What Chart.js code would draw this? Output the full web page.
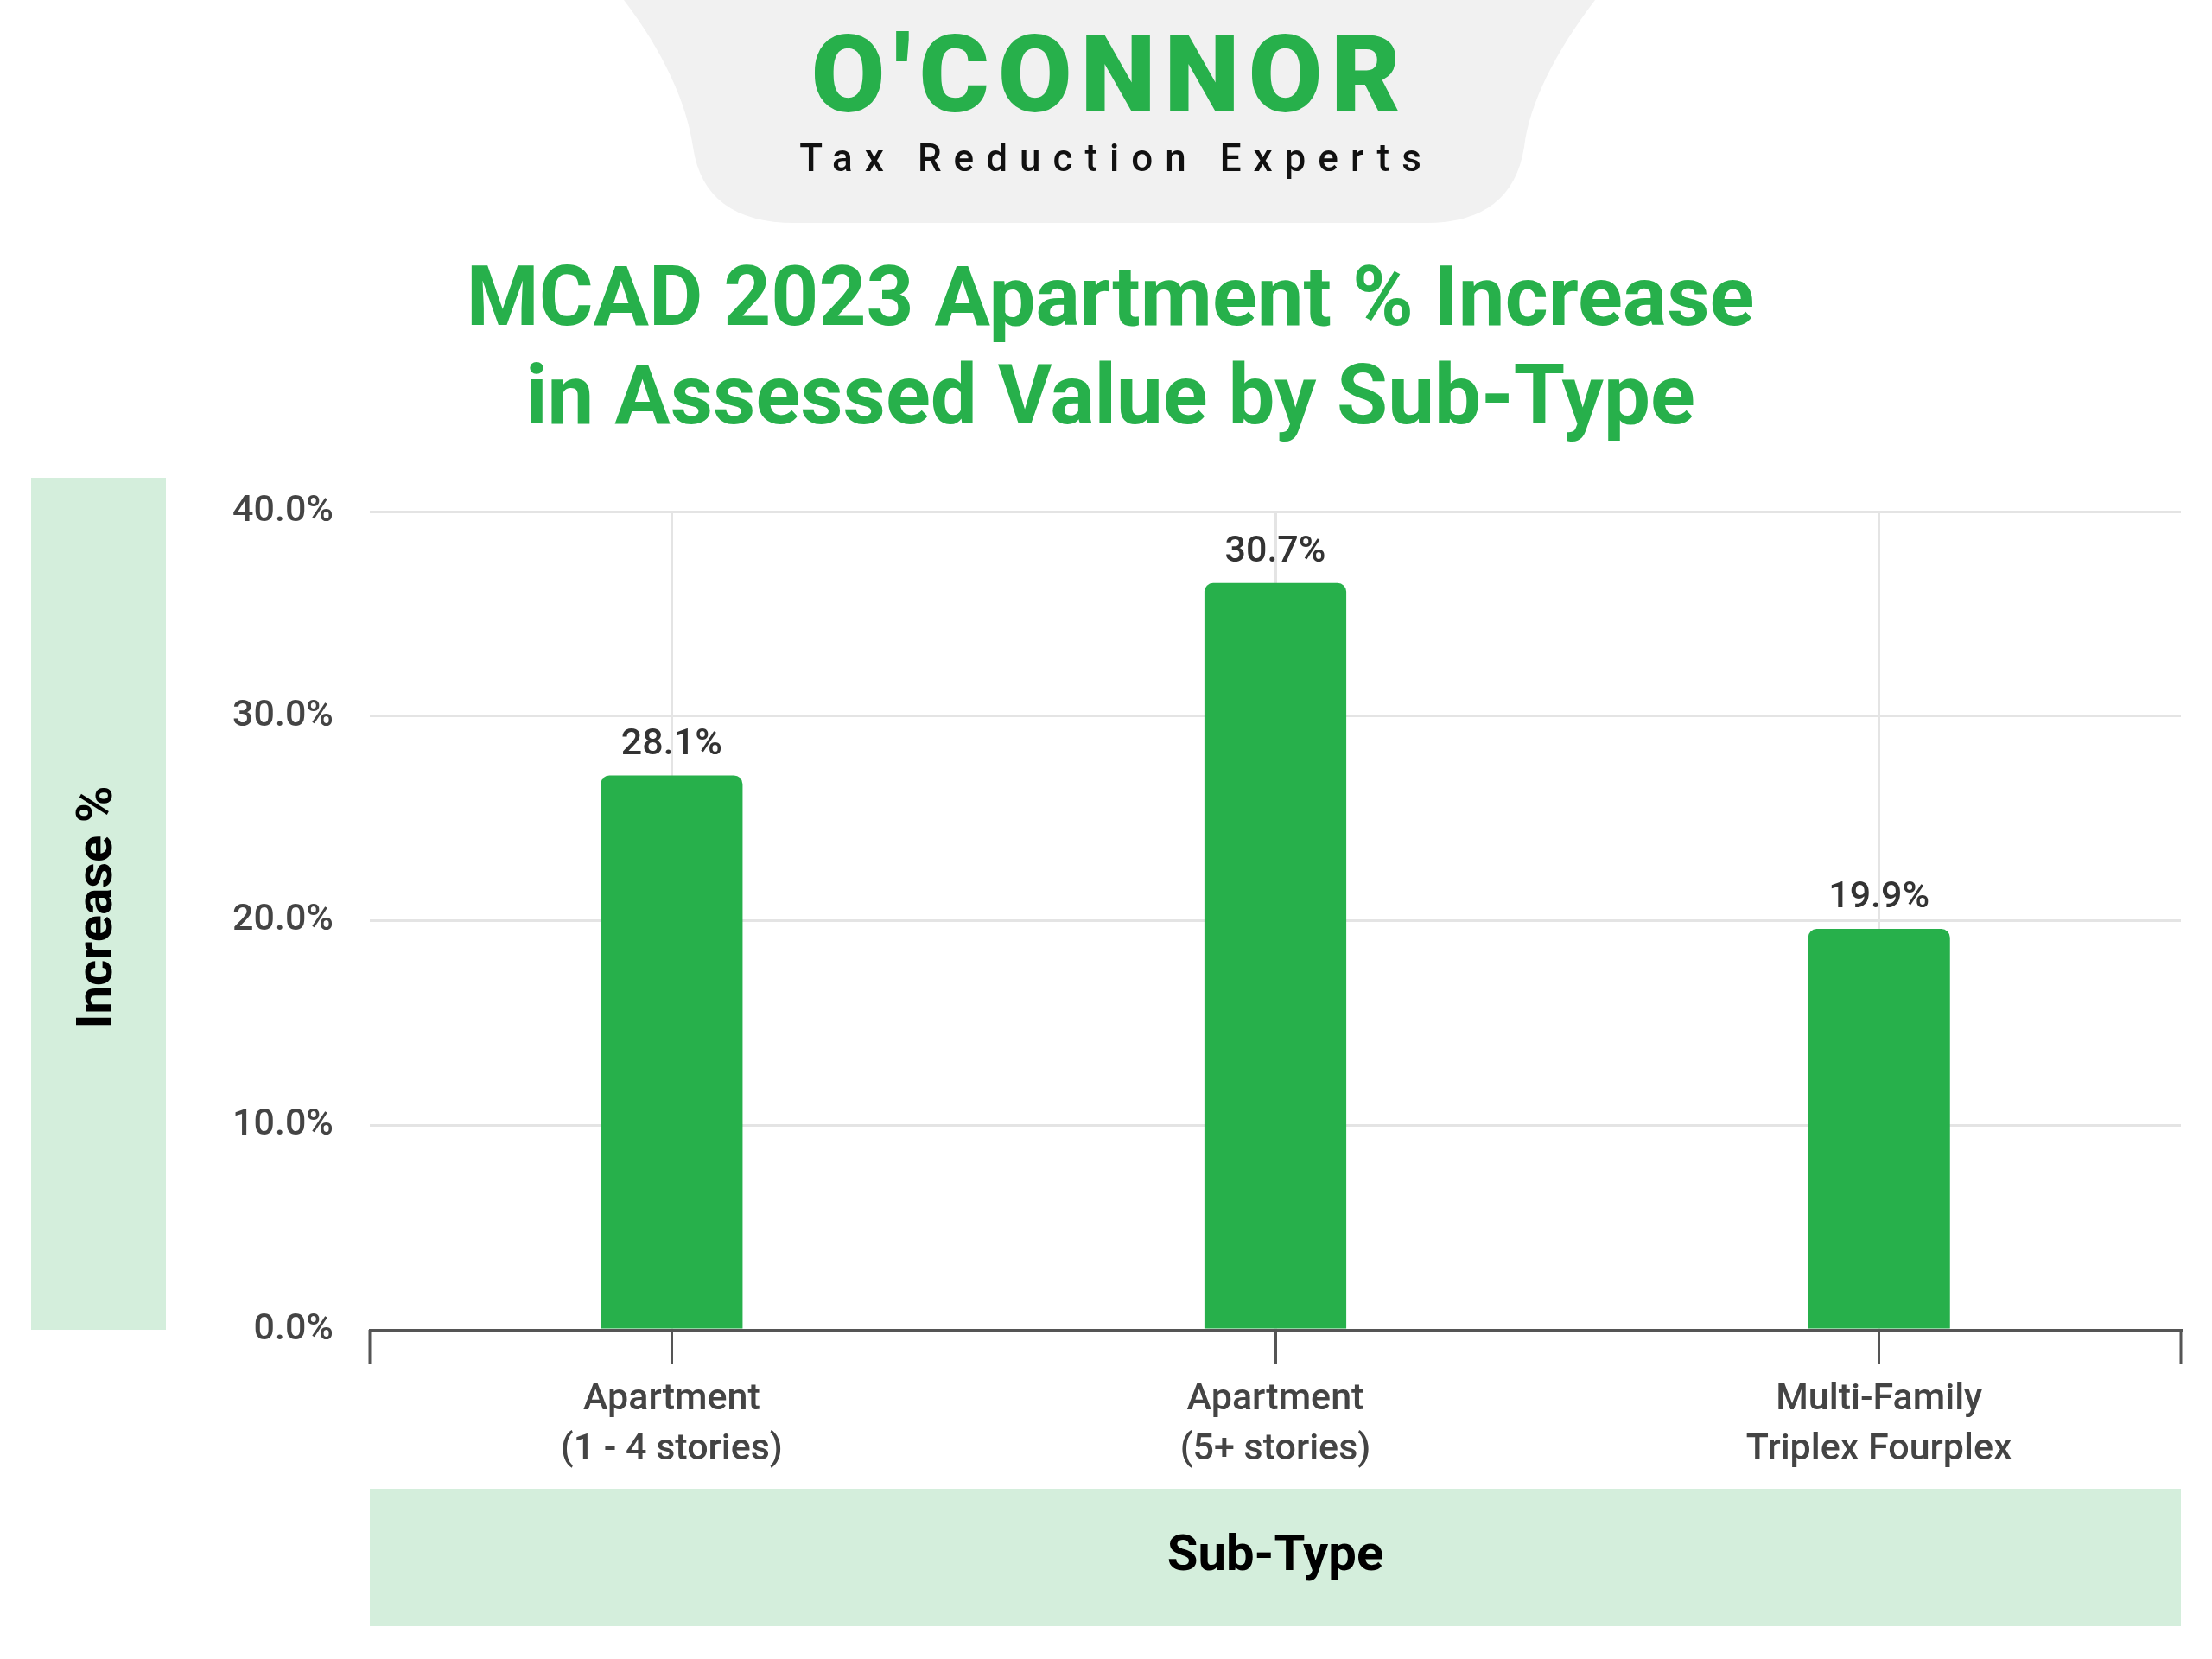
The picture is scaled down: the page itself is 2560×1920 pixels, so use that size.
<!DOCTYPE html>
<html><head><meta charset="utf-8">
<script src="https://cdn.jsdelivr.net/npm/chart.js@4"></script>
<style>html,body{margin:0;padding:0;background:#fff}#wrap{width:2560px;height:1920px;position:relative}</style>
</head><body><div id="wrap"><canvas id="c" width="2560" height="1920"></canvas></div>
<script>
const categories = [["Apartment","(1 - 4 stories)"],["Apartment","(5+ stories)"],["Multi-Family","Triplex Fourplex"]];
const barValues = [27.1, 36.5, 19.6];
const valueLabels = ["28.1%", "30.7%", "19.9%"];
const yTicks = [0, 10, 20, 30, 40];

const GREEN = '#27b04b', LIGHT = '#d4eedc';
const deco = {
  id: 'deco',
  beforeDraw(chart) {
    const ctx = chart.ctx, a = chart.chartArea;
    ctx.save();
    ctx.fillStyle = '#fff'; ctx.fillRect(0,0,2560,1920);
    ctx.fillStyle = '#f1f1f1';
    ctx.beginPath();
    ctx.moveTo(722,0); ctx.lineTo(1846,0);
    ctx.bezierCurveTo(1800,60,1770,120,1764,170);
    ctx.quadraticCurveTo(1750,258,1650,258);
    ctx.lineTo(920,258);
    ctx.quadraticCurveTo(815,258,802,170);
    ctx.bezierCurveTo(795,120,768,60,722,0);
    ctx.fill();
    ctx.textAlign='center'; ctx.textBaseline='middle';
    ctx.fillStyle = GREEN; ctx.font = '900 124px Roboto';
    ctx.letterSpacing = '10px';
    ctx.fillText("O'CONNOR", 1285, 98);
    ctx.fillStyle = '#111'; ctx.font = '500 44px Roboto';
    ctx.letterSpacing = '14px';
    ctx.fillText('Tax Reduction Experts', 1292, 187);
    ctx.letterSpacing = '0px';
    ctx.fillStyle = GREEN; ctx.font = 'bold 96px Roboto';
    ctx.fillText('MCAD 2023 Apartment % Increase', 1285, 352);
    ctx.fillText('in Assessed Value by Sub-Type', 1285, 466);
    ctx.fillStyle = LIGHT;
    ctx.fillRect(36, 553, 156, a.bottom-553);
    ctx.fillRect(a.left, 1723, a.right-a.left, 159);
    ctx.fillStyle = '#000'; ctx.font = 'bold 58px Roboto';
    ctx.fillText('Sub-Type', (a.left+a.right)/2, 1802);
    ctx.save(); ctx.translate(114, 1050); ctx.rotate(-Math.PI/2);
    ctx.fillText('Increase %', 0, 0); ctx.restore();
    ctx.restore();
  },
  afterDraw(chart) {
    const ctx = chart.ctx, a = chart.chartArea;
    ctx.save();
    ctx.strokeStyle = '#555'; ctx.lineWidth = 3;
    [a.left, a.right].forEach(px => { ctx.beginPath(); ctx.moveTo(px, a.bottom); ctx.lineTo(px, a.bottom+40); ctx.stroke(); });
    ctx.fillStyle = '#333'; ctx.font = '500 43px Roboto';
    ctx.textAlign = 'center'; ctx.textBaseline = 'bottom';
    chart.getDatasetMeta(0).data.forEach((b,i) => ctx.fillText(valueLabels[i], b.x, b.y - 14));
    ctx.restore();
  }
};

new Chart(document.getElementById('c'), {
  type: 'bar',
  data: { labels: categories, datasets: [{ data: barValues, backgroundColor: GREEN, borderRadius: 10, borderSkipped: 'bottom', barPercentage: 0.235, categoryPercentage: 1 }] },
  options: {
    responsive: false, animation: false, devicePixelRatio: 1,
    layout: { padding: { top: 592, right: 36, left: 0, bottom: 0 } },
    plugins: { legend: { display: false }, tooltip: { enabled: false } },
    scales: {
      y: {
        min: 0, max: 40, afterFit(s){ s.width = 428; },
        afterBuildTicks(s){ s.ticks = yTicks.map(v => ({value: v})); },
        ticks: { padding: 42, color: '#444', font: { family: 'Roboto', size: 43, weight: '500' }, callback: v => v.toFixed(1) + '%' },
        grid: { color: '#e4e4e4', lineWidth: 3, drawTicks: false },
        border: { display: false }
      },
      x: {
        afterFit(s){ s.height = 381; },
        ticks: { padding: 12, color: '#444', font: { family: 'Roboto', size: 43, weight: '500', lineHeight: 1.35 } },
        grid: { offset: false, color: '#e4e4e4', lineWidth: 3, tickColor: '#555', tickLength: 40, tickWidth: 3 },
        border: { color: '#555', width: 3 }
      }
    }
  },
  plugins: [deco]
});
</script></body></html>
